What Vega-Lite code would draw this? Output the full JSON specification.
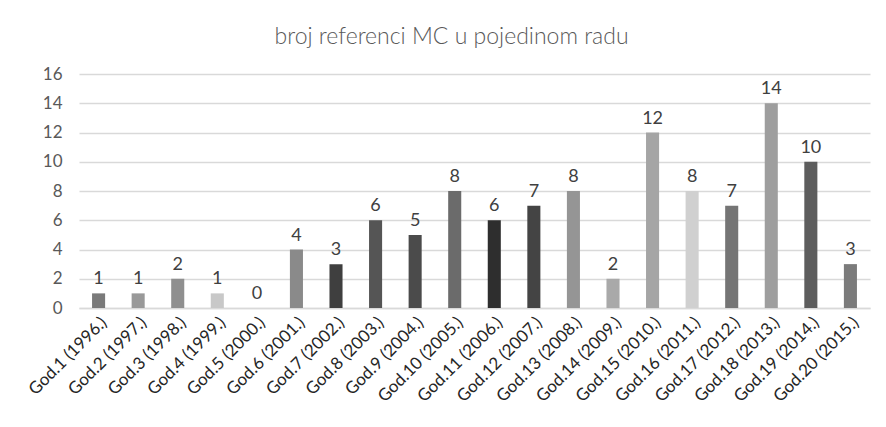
{
  "$schema": "https://vega.github.io/schema/vega-lite/v6.json",
  "autosize": "none",
  "width": 791,
  "height": 234,
  "padding": {"left": 79, "top": 74, "right": 16, "bottom": 119},
  "background": "white",
  "title": {
    "text": "broj referenci MC u pojedinom radu",
    "font": "Lato",
    "fontSize": 23,
    "fontWeight": 300,
    "color": "#595959",
    "anchor": "middle",
    "dx": -23,
    "offset": 16
  },
  "data": {
    "values": [
      {"god": "God.1 (1996.)", "n": 1},
      {"god": "God.2 (1997.)", "n": 1},
      {"god": "God.3 (1998.)", "n": 2},
      {"god": "God.4 (1999.)", "n": 1},
      {"god": "God.5 (2000.)", "n": 0},
      {"god": "God.6 (2001.)", "n": 4},
      {"god": "God.7 (2002.)", "n": 3},
      {"god": "God.8 (2003.)", "n": 6},
      {"god": "God.9 (2004.)", "n": 5},
      {"god": "God.10 (2005.)", "n": 8},
      {"god": "God.11 (2006.)", "n": 6},
      {"god": "God.12 (2007.)", "n": 7},
      {"god": "God.13 (2008.)", "n": 8},
      {"god": "God.14 (2009.)", "n": 2},
      {"god": "God.15 (2010.)", "n": 12},
      {"god": "God.16 (2011.)", "n": 8},
      {"god": "God.17 (2012.)", "n": 7},
      {"god": "God.18 (2013.)", "n": 14},
      {"god": "God.19 (2014.)", "n": 10},
      {"god": "God.20 (2015.)", "n": 3}
    ]
  },
  "encoding": {
    "x": {
      "field": "god",
      "type": "nominal",
      "sort": null,
      "scale": {"paddingInner": 0.67, "paddingOuter": 0.33},
      "axis": {
        "title": null,
        "labelAngle": -45,
        "labelFont": "Lato",
        "labelFontSize": 17,
        "labelColor": "#262626",
        "labelPadding": 6,
        "ticks": false,
        "domainColor": "#d9d9d9",
        "domainWidth": 1.5,
        "grid": false
      }
    },
    "y": {
      "field": "n",
      "type": "quantitative",
      "scale": {"domain": [0, 16]},
      "axis": {
        "title": null,
        "values": [0, 2, 4, 6, 8, 10, 12, 14, 16],
        "labelFont": "Lato",
        "labelFontSize": 17,
        "labelColor": "#595959",
        "labelPadding": 17,
        "ticks": false,
        "domain": false,
        "gridColor": "#d9d9d9",
        "gridWidth": 1.5
      }
    }
  },
  "layer": [
    {
      "mark": {"type": "bar"},
      "encoding": {
        "color": {
          "field": "god",
          "type": "nominal",
          "legend": null,
          "scale": {
            "domain": ["God.1 (1996.)", "God.2 (1997.)", "God.3 (1998.)", "God.4 (1999.)", "God.5 (2000.)", "God.6 (2001.)", "God.7 (2002.)", "God.8 (2003.)", "God.9 (2004.)", "God.10 (2005.)", "God.11 (2006.)", "God.12 (2007.)", "God.13 (2008.)", "God.14 (2009.)", "God.15 (2010.)", "God.16 (2011.)", "God.17 (2012.)", "God.18 (2013.)", "God.19 (2014.)", "God.20 (2015.)"],
            "range": ["#7a7a7a", "#999999", "#8f8f8f", "#c8c8c8", "#bbbbbb", "#8a8a8a", "#3f3f3f", "#555555", "#4b4b4b", "#6b6b6b", "#2e2e2e", "#444444", "#959595", "#a9a9a9", "#a5a5a5", "#d0d0d0", "#757575", "#9e9e9e", "#5d5d5d", "#7b7b7b"]
          }
        }
      }
    },
    {
      "mark": {"type": "text", "baseline": "bottom", "dy": -5, "font": "Lato", "fontSize": 18, "color": "#404040"},
      "encoding": {"text": {"field": "n", "type": "quantitative"}}
    }
  ],
  "config": {"view": {"stroke": null}}
}
